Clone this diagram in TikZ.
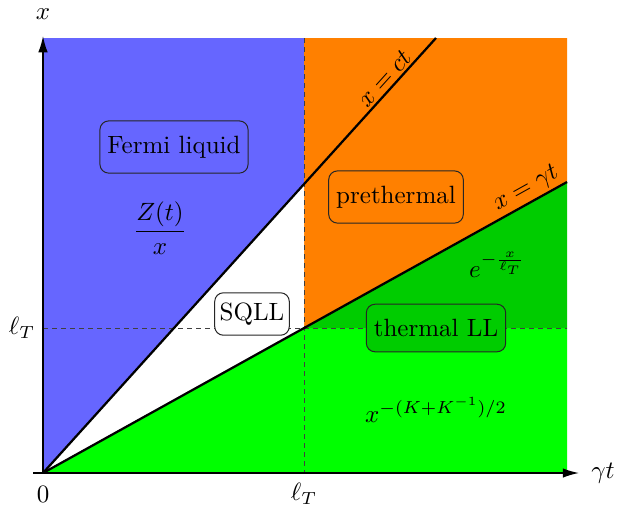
\documentclass[tikz,border=0pt]{standalone}
\usetikzlibrary{arrows.meta}
\definecolor{fermiblue}{HTML}{6666FF}
\definecolor{preorange}{HTML}{FF8000}
\definecolor{darkgr}{HTML}{00CC00}
\definecolor{brightgr}{HTML}{00FF00}
\tikzset{
  regionbox/.style={draw=black!85, rounded corners=3.5pt, inner xsep=3pt, inner ysep=6pt, thin},
  axisline/.style={line width=0.6pt, -{Latex[length=6.5pt,width=3.8pt]}},
  bound/.style={line width=0.9pt},
  guide/.style={dash pattern=on 2pt off 1.6pt, draw=black!75, line width=0.4pt},
  linelabel/.style={sloped, above, inner sep=1pt}
}
\begin{document}
\begin{tikzpicture}[x=0.4pt,y=0.4pt]
\useasboundingbox (0,0) rectangle (630,508);
% key points
\coordinate (O) at (43,35);
\coordinate (TL) at (43,470);
\coordinate (TM) at (304,470);
\coordinate (TR) at (567,470);
\coordinate (BM) at (304,35);
\coordinate (BR) at (567,35);
\coordinate (LM) at (43,180);
\coordinate (RM) at (567,180);
\coordinate (P) at (304,180);
\coordinate (C) at (304,324);
\coordinate (CE) at (436,470);
\coordinate (GE) at (567,326);
% regions
\fill[fermiblue] (O) -- (C) -- (TM) -- (TL) -- cycle;
\fill[preorange] (P) -- (GE) -- (TR) -- (TM) -- cycle;
\fill[white] (O) -- (C) -- (P) -- cycle;
\fill[darkgr] (P) -- (GE) -- (RM) -- cycle;
\fill[brightgr] (O) -- (P) -- (RM) -- (BR) -- cycle;
% guides
\draw[guide] (LM) -- (RM);
\draw[guide] (TM) -- (BM);
% boundaries
\draw[bound] (O) -- (CE) node[linelabel, pos=0.89] (ctlab) {$x = ct$};
\draw[bound] (O) -- (GE) node[linelabel, pos=0.935] (gtline) {$x = \gamma t$};
% axes
\coordinate (XS) at (33,35);
\coordinate (XE) at (579,35);
\coordinate (YE) at (43,472);
\draw[axisline] (XS) -- (XE);
\draw[axisline] (O) -- (YE);
% axis labels
\node (xlab) at (43,494) {$x$};
\node (gtlab) at (603,35) {$\gamma t$};
\node (zero) at (43,14) {$0$};
\node (lTx) at (304,14) {$\ell_T$};
\node (lTy) at (22,180) {$\ell_T$};
% region labels
\node[regionbox, fill=fermiblue] (fermi) at (174,361) {Fermi liquid};
\node (zt) at (160,280) {$\displaystyle\frac{Z(t)}{x}$};
\node[regionbox, fill=preorange] (pre) at (396,311) {prethermal};
\node[regionbox, fill=white, inner xsep=2pt, inner ysep=4pt] (sqll) at (252,194) {SQLL};
\node[regionbox, fill=darkgr] (tll) at (436,180) {thermal LL};
\node (expo) at (497,243) {$e^{-\frac{x}{\ell_T}}$};
\node (pow) at (436,98) {$x^{-(K+K^{-1})/2}$};
\end{tikzpicture}
\end{document}
